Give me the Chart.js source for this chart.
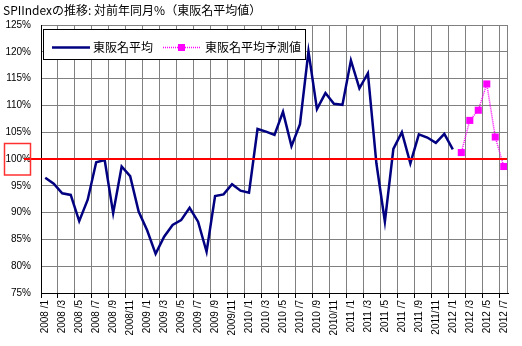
<!DOCTYPE html>
<html lang="ja">
<head>
<meta charset="utf-8">
<title>SPIIndexの推移</title>
<script src="https://cdn.jsdelivr.net/npm/chart.js@4/dist/chart.umd.min.js"></script>
<style>
  body { margin: 0; background: #fff; }
  canvas { display: block; }
</style>
</head>
<body>
<canvas id="spiChart" width="522" height="346"></canvas>
<script>
// months 2008/1 .. 2012/7
const months = [
    '2008/1', '2008/2', '2008/3', '2008/4', '2008/5', '2008/6', '2008/7', '2008/8', '2008/9', '2008/10', '2008/11', '2008/12',
    '2009/1', '2009/2', '2009/3', '2009/4', '2009/5', '2009/6', '2009/7', '2009/8', '2009/9', '2009/10', '2009/11', '2009/12',
    '2010/1', '2010/2', '2010/3', '2010/4', '2010/5', '2010/6', '2010/7', '2010/8', '2010/9', '2010/10', '2010/11', '2010/12',
    '2011/1', '2011/2', '2011/3', '2011/4', '2011/5', '2011/6', '2011/7', '2011/8', '2011/9', '2011/10', '2011/11', '2011/12',
    '2012/1', '2012/2', '2012/3', '2012/4', '2012/5', '2012/6', '2012/7'
];

// 東阪名平均 (actual, 2008/1 - 2012/1)
const actual = [
    96.5, 95.4, 93.6, 93.3, 88.4, 92.4, 99.4, 99.8, 89.9, 98.6, 96.8, 90.2,
    86.7, 82.3, 85.5, 87.7, 88.6, 90.9, 88.3, 82.7, 93.1, 93.4, 95.3, 94.1,
    93.7, 105.6, 105.1, 104.5, 108.8, 102.4, 106.5, 120.1, 109.3, 112.3, 110.3, 110.1,
    118.4, 113.2, 116.0, 99.2, 88.3, 101.9, 105.0, 99.2, 104.6, 104.0, 103.0, 104.7,
    101.8
];

// 東阪名平均予測値 (forecast, 2012/2 - 2012/7)
const forecast = [101.2, 107.2, 109.1, 114.0, 104.1, 98.6];

const yTicks = [75, 80, 85, 90, 95, 100, 105, 110, 115, 120, 125];
const baseline = 100;

const seriesNames = ['東阪名平均', '東阪名平均予測値'];
const titleText = 'SPIIndexの推移: 対前年同月%（東阪名平均値）';

const NAVY = '#000080';
const MAGENTA = '#ff00ff';
const GRID = '#808080';
const JP_FONT = '"Noto Sans CJK JP", "Noto Sans", sans-serif';

const forecastData = months.map((m, i) => {
    const k = i - actual.length;
    return k >= 0 && k < forecast.length ? forecast[k] : null;
});

// title, legend box and the 100% reference line
const decorations = {
    id: 'decorations',
    afterDatasetsDraw(chart) {
        const { ctx, chartArea, scales } = chart;
        const y100 = scales.y.getPixelForValue(baseline);

        ctx.save();
        ctx.strokeStyle = '#ff0000';
        ctx.lineWidth = 2;
        ctx.beginPath();
        ctx.moveTo(24, y100);
        ctx.lineTo(chartArea.right, y100);
        ctx.stroke();

        ctx.lineWidth = 1.5;
        ctx.strokeStyle = '#ff3030';
        ctx.strokeRect(4.5, y100 - 15.5, 26, 31.5);

        // right edge of the plot
        ctx.strokeStyle = GRID;
        ctx.lineWidth = 1;
        ctx.beginPath();
        ctx.moveTo(Math.round(chartArea.right) - 0.5, chartArea.top);
        ctx.lineTo(Math.round(chartArea.right) - 0.5, chartArea.bottom);
        ctx.stroke();

        // legend
        ctx.fillStyle = '#fff';
        ctx.fillRect(43.5, 29.5, 262, 30);
        ctx.strokeStyle = '#000';
        ctx.strokeRect(43.5, 29.5, 262, 30);

        const ly = 47.5;
        ctx.strokeStyle = NAVY;
        ctx.lineWidth = 2.5;
        ctx.beginPath();
        ctx.moveTo(52, ly);
        ctx.lineTo(90, ly);
        ctx.stroke();

        ctx.strokeStyle = MAGENTA;
        ctx.lineWidth = 1.5;
        ctx.setLineDash([1, 1]);
        ctx.beginPath();
        ctx.moveTo(163, ly);
        ctx.lineTo(200, ly);
        ctx.stroke();
        ctx.setLineDash([]);
        ctx.fillStyle = MAGENTA;
        ctx.fillRect(178, ly - 3.5, 7, 7);

        ctx.fillStyle = '#000';
        ctx.font = '12px ' + JP_FONT;
        ctx.textBaseline = 'middle';
        ctx.textAlign = 'left';
        ctx.fillText(seriesNames[0], 93, ly);
        ctx.fillText(seriesNames[1], 205, ly);

        // title
        ctx.font = '12px ' + JP_FONT;
        ctx.fillText(titleText, 3, 10);
        ctx.restore();
    }
};

const ctx = document.getElementById('spiChart').getContext('2d');
const spiChart = new Chart(ctx, {
    type: 'line',
    data: {
        labels: months,
        datasets: [{
            label: seriesNames[0],
            data: actual,
            borderColor: NAVY,
            backgroundColor: NAVY,
            borderWidth: 2.5,
            pointRadius: 0,
            tension: 0
        }, {
            label: seriesNames[1],
            data: forecastData,
            borderColor: MAGENTA,
            backgroundColor: MAGENTA,
            borderWidth: 1.5,
            borderDash: [1, 1],
            pointStyle: 'rect',
            pointRadius: 5,
            pointBorderWidth: 0,
            tension: 0
        }]
    },
    options: {
        responsive: false,
        animation: false,
        layout: { padding: { top: 25, right: 14, left: 0, bottom: 0 } },
        plugins: {
            legend: { display: false },
            title: { display: false },
            tooltip: { enabled: false }
        },
        scales: {
            x: {
                type: 'category',
                offset: true,
                afterFit: (scale) => { scale.height = 53; },
                border: { color: '#000', width: 1 },
                grid: {
                    offset: true,
                    color: (c) => (c.index > 0 && c.index % 2 === 0) ? GRID : 'rgba(0,0,0,0)',
                    tickColor: (c) => (c.index % 2 === 0) ? '#000' : 'rgba(0,0,0,0)',
                    tickLength: 5
                },
                ticks: {
                    autoSkip: false,
                    minRotation: 90,
                    maxRotation: 90,
                    padding: 2,
                    color: '#000',
                    font: { family: '"Liberation Sans", Arial, sans-serif', size: 10 },
                    callback: function (value, index) {
                        if (index % 2 !== 0) return '';
                        const [yr, mo] = months[index].split('/');
                        return mo.length === 1 ? yr + ' /' + mo : yr + '/' + mo;
                    }
                }
            },
            y: {
                min: yTicks[0],
                max: yTicks[yTicks.length - 1],
                afterFit: (scale) => { scale.width = 41; },
                afterBuildTicks: (scale) => { scale.ticks = yTicks.map(v => ({ value: v })); },
                border: { color: '#000', width: 1 },
                grid: { color: GRID, drawTicks: false },
                ticks: {
                    padding: 10,
                    color: '#000',
                    font: { family: '"Liberation Sans", Arial, sans-serif', size: 10 },
                    callback: (v) => v + '%'
                }
            }
        }
    },
    plugins: [decorations]
});
</script>
</body>
</html>
